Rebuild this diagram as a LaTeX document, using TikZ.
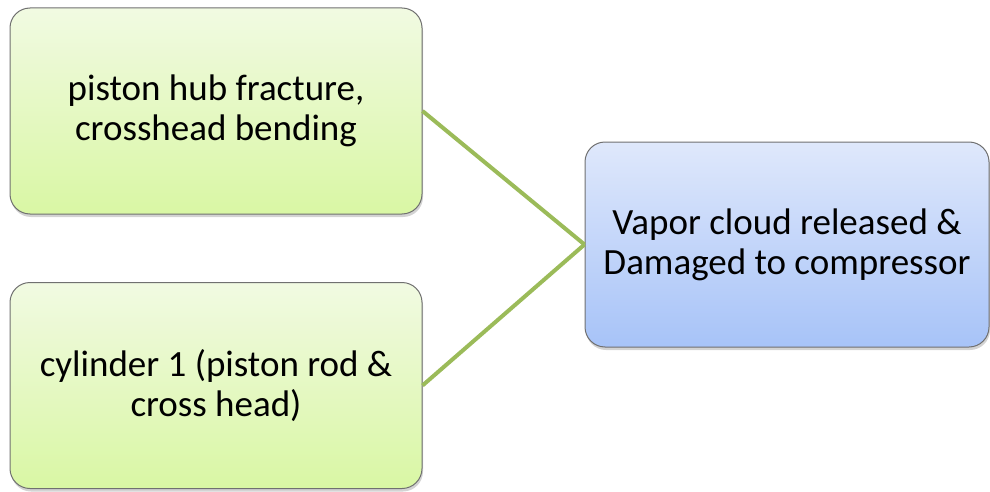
\documentclass[tikz,border=0pt]{standalone}
\usepackage{fontspec}
\setmainfont{Carlito}
\usetikzlibrary{shadows}
\definecolor{greentop}{HTML}{F1FAE2}
\definecolor{greenbot}{HTML}{D9F7A4}
\definecolor{bluetop}{HTML}{DFE8FB}
\definecolor{bluebot}{HTML}{A7C3F8}
\definecolor{framegrey}{HTML}{707070}
\definecolor{linkgreen}{HTML}{9BBB59}
\tikzset{
  box/.style={draw=framegrey, line width=1pt, rounded corners=20pt,
    align=center, font=\fontsize{37}{40}\selectfont, text=black,
    drop shadow={opacity=0.35, shadow xshift=1pt, shadow yshift=-3pt}},
  causebox/.style={box, top color=greentop, bottom color=greenbot,
    minimum width=412pt, minimum height=206pt},
  effectbox/.style={box, top color=bluetop, bottom color=bluebot,
    minimum width=404pt, minimum height=205pt},
  link/.style={draw=linkgreen, line width=4pt}
}
\begin{document}
\begin{tikzpicture}[x=1pt, y=-1pt]
  \useasboundingbox (0,0) rectangle (990,492);
  \node[causebox] (hub) at (216,111) {piston hub fracture,\\crosshead bending};
  \node[causebox] (cyl) at (216,385.5) {cylinder 1 (piston rod \&\\cross head)};
  \node[effectbox] (vapor) at (787,244.5) {Vapor cloud released \&\\Damaged to compressor};
  \draw[link] (hub.east) -- (vapor.west);
  \draw[link] (cyl.east) -- (vapor.west);
\end{tikzpicture}
\end{document}
